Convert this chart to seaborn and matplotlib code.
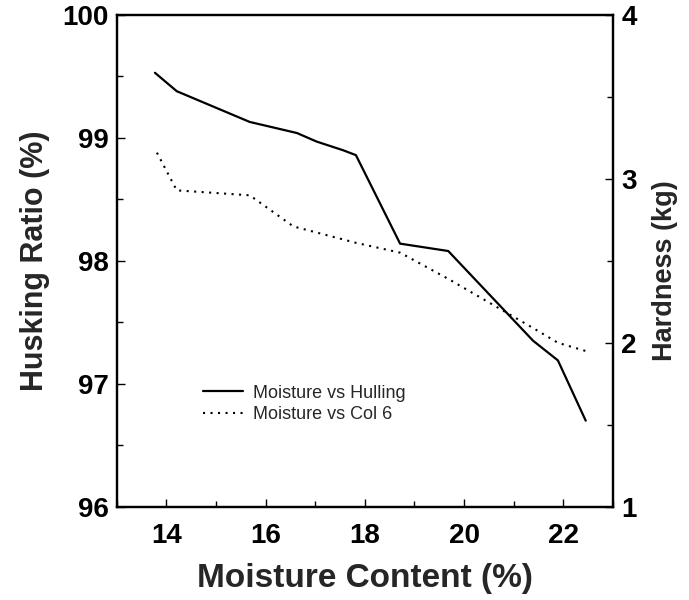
import matplotlib
matplotlib.use("Agg")
import matplotlib.pyplot as plt
from matplotlib.ticker import MultipleLocator
import pandas as pd
import seaborn as sns

# Husking ratio (left axis) against moisture content
moisture_hull = [13.77, 14.21, 15.68, 16.63, 17.03, 17.56, 17.82, 18.71, 19.68, 21.39, 21.89, 22.45]
husking_ratio = [99.53, 99.38, 99.13, 99.04, 98.97, 98.90, 98.86, 98.14, 98.08, 97.35, 97.19, 96.70]

# Hardness (right axis) against moisture content
moisture_hard = [13.81, 14.21, 15.68, 16.56, 17.82, 18.71, 19.68, 21.39, 21.89, 22.45]
hardness = [3.16, 2.93, 2.90, 2.71, 2.61, 2.55, 2.39, 2.09, 2.00, 1.95]

x_ticks = [14, 16, 18, 20, 22]
left_ticks = [96, 97, 98, 99, 100]
right_ticks = [1, 2, 3, 4]

label_hull = "Moisture vs Hulling"
label_hard = "Moisture vs Col 6"

sns.set_theme(style="ticks")
plt.rcParams["font.family"] = ["Liberation Sans", "DejaVu Sans"]

df_hull = pd.DataFrame({"moisture": moisture_hull, "ratio": husking_ratio})
df_hard = pd.DataFrame({"moisture": moisture_hard, "hardness": hardness})

fig = plt.figure(figsize=(6.89, 6.0), dpi=100)
ax = fig.add_axes([0.1694, 0.1555, 0.7203, 0.8195])
ax2 = ax.twinx()

sns.lineplot(data=df_hull, x="moisture", y="ratio", ax=ax, sort=False,
             color="black", linewidth=1.6, label=label_hull, legend=False)
sns.lineplot(data=df_hard, x="moisture", y="hardness", ax=ax2, sort=False,
             color="black", linewidth=1.5, linestyle=(0, (1, 2.6)),
             label=label_hard, legend=False)

ax.set_xlim(13, 23)
ax.set_ylim(96, 100)
ax2.set_ylim(1, 4)

ax.set_xticks(x_ticks)
ax.set_yticks(left_ticks)
ax2.set_yticks(right_ticks)
ax.xaxis.set_minor_locator(MultipleLocator(1))
ax.yaxis.set_minor_locator(MultipleLocator(0.5))
ax2.yaxis.set_minor_locator(MultipleLocator(0.5))

tick_font = dict(fontsize=20, fontweight="bold")
ax.set_xticklabels([str(v) for v in x_ticks], **tick_font)
ax.set_yticklabels([str(v) for v in left_ticks], **tick_font)
ax2.set_yticklabels([str(v) for v in right_ticks], **tick_font)

for a in (ax, ax2):
    a.tick_params(which="major", direction="in", length=6, width=1.0, pad=6, colors="black")
    a.tick_params(which="minor", direction="in", length=4, width=1.0, colors="black")
    for s in a.spines.values():
        s.set_visible(True)
        s.set_linewidth(1.6)
        s.set_color("black")
ax.tick_params(axis="x", which="both", top=False, pad=12)
ax.tick_params(axis="y", which="both", right=False)

ax.set_xlabel("Moisture Content (%)", labelpad=10, fontsize=24, fontweight="bold")
ax.set_ylabel("Husking Ratio (%)", labelpad=9, fontsize=22, fontweight="bold")
ax2.set_ylabel("Hardness (kg)", fontsize=19.5, fontweight="bold")
ax2.yaxis.set_label_coords(1.078, 0.48)

handles = ax.get_lines()[:1] + ax2.get_lines()[:1]
ax2.legend(handles, [label_hull, label_hard], loc="center left",
           bbox_to_anchor=(0.2946, 0.327), bbox_transform=fig.transFigure,
           frameon=False, fontsize=13, handlelength=2.2, handletextpad=0.55,
           labelspacing=0.25, borderpad=0, borderaxespad=0)

fig.savefig("out.png", dpi=100)
